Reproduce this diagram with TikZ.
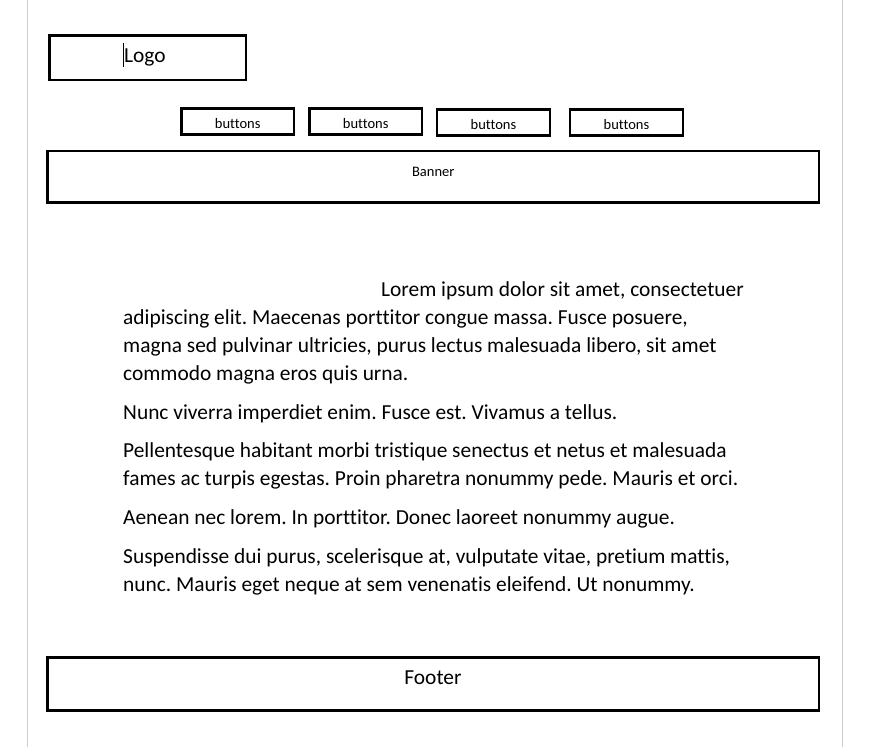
\documentclass[tikz,border=0pt]{standalone}
\usepackage{fontspec}
\setmainfont{Carlito}[Ligatures=NoCommon]
\frenchspacing
\begin{document}
\begin{tikzpicture}[x=1pt,y=-1pt,
				box/.style={draw,line width=2.7pt,inner sep=0pt},
				btn/.style={box,minimum height=26pt,font=\fontsize{14.5}{17}\selectfont,text height=14pt,text depth=0pt},
				para/.style={anchor=base west,inner sep=0pt,align=left,font=\fontsize{21.4}{28}\selectfont}]
\useasboundingbox (0,0) rectangle (870,747);
% page edges
\draw[black!20,line width=1pt] (27.5,0) -- (27.5,747);
\draw[black!20,line width=1pt] (842.5,0) -- (842.5,747);
% header
\node[box,minimum width=196.5pt,minimum height=44.5pt] (logo) at (147.75,57.75) {};
\node[anchor=base west,inner sep=0pt,font=\fontsize{21.4}{25}\selectfont] (logotext) at (124,62) {Logo};
\draw[line width=0.8pt] (123.5,43) -- (123.5,67);
\node[btn,minimum width=112.5pt] (btn1) at (237.75,121.5) {buttons};
\node[btn,minimum width=112.5pt] (btn2) at (365.75,121.5) {buttons};
\node[btn,minimum width=113pt] (btn3) at (493.5,122.25) {buttons};
\node[btn,minimum width=113pt] (btn4) at (626.5,122.25) {buttons};
\node[box,minimum width=771.5pt,minimum height=51.5pt] (banner) at (433.25,176.75) {};
\node[anchor=base,inner sep=0pt,font=\fontsize{14.5}{17}\selectfont] (bannertext) at (433.25,176) {Banner};
% content (a node's base is the baseline of its last line)
\node[para] (p1) at (123,380) {\hspace*{258pt}Lorem ipsum dolor sit amet, consectetuer\\
	adipiscing elit. Maecenas porttitor congue massa. Fusce posuere,\\
	magna sed pulvinar ultricies, purus lectus malesuada libero, sit amet\\
	commodo magna eros quis urna.};
\node[para] (p2) at (123,419) {Nunc viverra imperdiet enim. Fusce est. Vivamus a tellus.};
\node[para] (p3) at (123,485) {Pellentesque habitant morbi tristique senectus et netus et malesuada\\
	fames ac turpis egestas. Proin pharetra nonummy pede. Mauris et orci.};
\node[para] (p4) at (123,524) {Aenean nec lorem. In porttitor. Donec laoreet nonummy augue.};
\node[para] (p5) at (123,591) {Suspendisse dui purus, scelerisque at, vulputate vitae, pretium mattis,\\
	nunc. Mauris eget neque at sem venenatis eleifend. Ut nonummy.};
% footer
\node[box,minimum width=771.5pt,minimum height=53.3pt] (footer) at (433.25,683.85) {};
\node[anchor=base,inner sep=0pt,font=\fontsize{21.4}{25}\selectfont] (footertext) at (433,684) {Footer};
\end{tikzpicture}
\end{document}
